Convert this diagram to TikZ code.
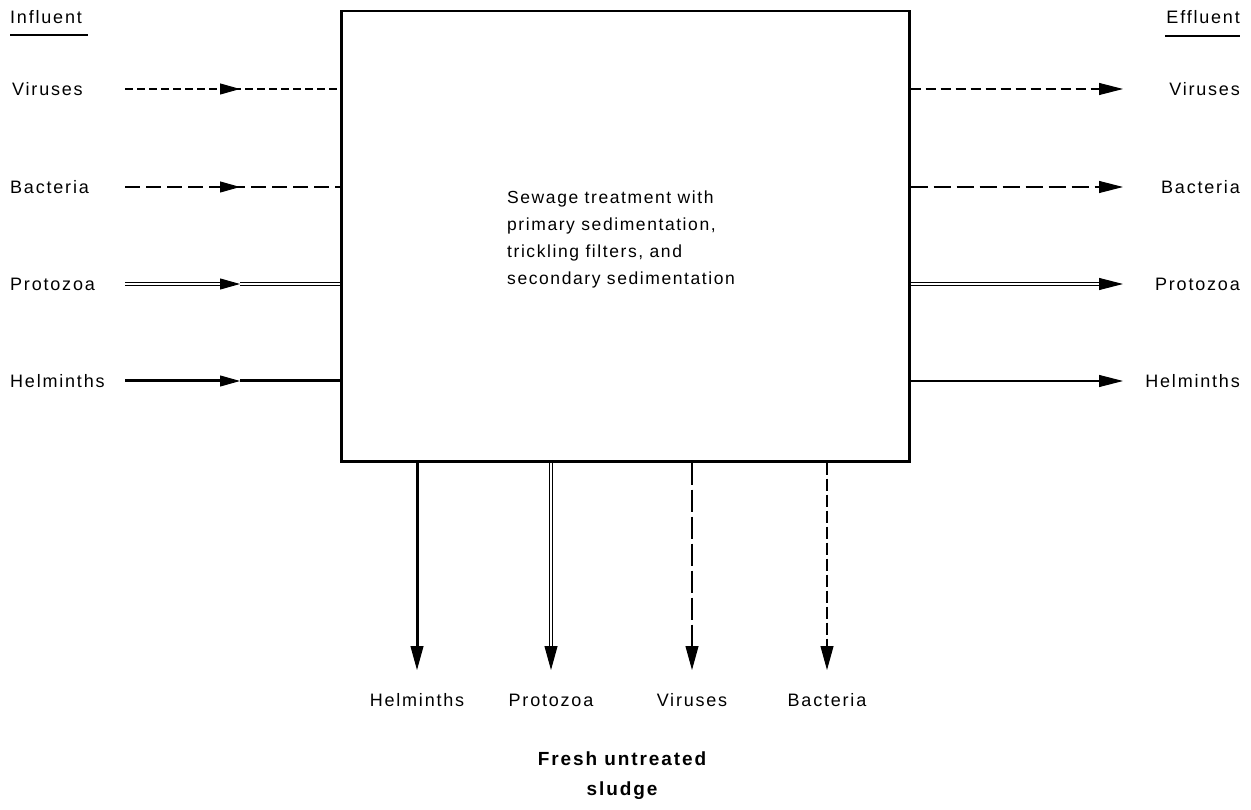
\documentclass[tikz,border=0pt]{standalone}
\usepackage{fontspec}
\setmainfont{Liberation Sans}
\newfontfamily\lblfont[LetterSpace=10]{Liberation Sans}
\newfontfamily\boxfont[LetterSpace=9]{Liberation Sans}
\usetikzlibrary{arrows.meta,calc}
\begin{document}
\begin{tikzpicture}[x=1pt,y=-1pt,
  lbl/.style={font=\lblfont\fontsize{18}{20}\selectfont, inner sep=0pt},
  vir/.style={line width=2pt, dash pattern=on 8pt off 4pt},
  bac/.style={line width=2pt, dash pattern=on 15pt off 6pt},
  pro/.style={double, line width=1.1pt, double distance=2pt},
  helthick/.style={line width=3pt},
  helthin/.style={line width=1.6pt},
  tipL/.style={-{Triangle[length=20pt,width=11pt]}, line width=1pt},
  tipR/.style={-{Triangle[length=24pt,width=12pt]}, line width=1pt},
  tipB/.style={-{Triangle[length=24pt,width=13pt]}, line width=1pt}]
\useasboundingbox (0,0) rectangle (1251,810);
\fill[white] (0,0) rectangle (1251,810);

% main box
\node[draw, line width=2.5pt, inner sep=0pt, minimum width=568pt, minimum height=450pt, anchor=north west] (box) at (340,10) {};
\node[anchor=north west, align=left, inner sep=0pt, font=\boxfont\fontsize{17.5}{27}\selectfont] (txt) at (507,191)
  {Sewage treatment with\\primary sedimentation,\\trickling filters, and\\secondary sedimentation};

% headings
\node[lbl, anchor=base west] (infl) at (10,24) {Influent};
\draw[line width=1.2pt] (10,35) coordinate (iu1) -- (88,35) coordinate (iu2);
\node[lbl, anchor=base east] (effl) at (1240,24) {Effluent};
\draw[line width=1.2pt] (1165,36) coordinate (eu1) -- (1240,36) coordinate (eu2);

% left labels
\node[lbl, anchor=base west] (lv) at (12,96) {Viruses};
\node[lbl, anchor=base west] (lb) at (10,194) {Bacteria};
\node[lbl, anchor=base west] (lp) at (10,291) {Protozoa};
\node[lbl, anchor=base west] (lh) at (10,388) {Helminths};

% left start points and mid arrow tips
\coordinate (sv) at (125,89);  \coordinate (mv) at (240,89);
\coordinate (sb) at (125,187); \coordinate (mb) at (240,187);
\coordinate (sp) at (125,284); \coordinate (mp) at (240,284);
\coordinate (sh) at (125,381); \coordinate (mh) at (240,381);

\draw[vir] (sv) -- (mv) -- (sv -| box.west);
\draw[tipL] ($(mv)+(-20,0)$) -- (mv);
\draw[bac] (sb) -- (mb) -- (sb -| box.west);
\draw[tipL] ($(mb)+(-20,0)$) -- (mb);
\draw[pro] (sp) -- ($(mp)+(-19,0)$);
\draw[pro] (mp) -- (sp -| box.west);
\draw[tipL] ($(mp)+(-20,0)$) -- (mp);
\draw[helthick] (sh) -- ($(mh)+(-15,0)$);
\draw[helthick] (mh) -- (sh -| box.west);
\draw[tipL] ($(mh)+(-20,0)$) -- (mh);

% right labels
\node[lbl, anchor=base east] (rv) at (1240,96) {Viruses};
\node[lbl, anchor=base east] (rb) at (1240,194) {Bacteria};
\node[lbl, anchor=base east] (rp) at (1240,291) {Protozoa};
\node[lbl, anchor=base east] (rh) at (1240,388) {Helminths};

\coordinate (ev) at (1123,89);
\coordinate (eb) at (1123,187);
\coordinate (ep) at (1123,284);
\coordinate (eh) at (1123,381);
\draw[vir, dash pattern=on 10pt off 5pt] (ev -| box.east) -- ($(ev)+(-20,0)$);
\draw[tipR] ($(ev)+(-24,0)$) -- (ev);
\draw[bac, dash pattern=on 17pt off 6pt] (eb -| box.east) -- ($(eb)+(-20,0)$);
\draw[tipR] ($(eb)+(-24,0)$) -- (eb);
\draw[pro] (ep -| box.east) -- ($(ep)+(-20,0)$);
\draw[tipR] ($(ep)+(-24,0)$) -- (ep);
\draw[helthin] (eh -| box.east) -- ($(eh)+(-20,0)$);
\draw[tipR] ($(eh)+(-24,0)$) -- (eh);

% bottom
\coordinate (bh) at (417,670);
\coordinate (bp) at (551,670);
\coordinate (bv) at (692,670);
\coordinate (bb) at (827,670);
\draw[helthick] (bh |- box.south) -- ($(bh)+(0,-20)$);
\draw[tipB] ($(bh)+(0,-24)$) -- (bh);
\draw[pro] (bp |- box.south) -- ($(bp)+(0,-20)$);
\draw[tipB] ($(bp)+(0,-24)$) -- (bp);
\draw[vir, dash pattern=on 22pt off 5pt] (bv |- box.south) -- ($(bv)+(0,-20)$);
\draw[tipB] ($(bv)+(0,-24)$) -- (bv);
\draw[bac, dash pattern=on 12pt off 4pt] (bb |- box.south) -- ($(bb)+(0,-20)$);
\draw[tipB] ($(bb)+(0,-24)$) -- (bb);

\node[lbl, anchor=base] (th) at (417,706) {Helminths};
\node[lbl, anchor=base] (tp) at (551,706) {Protozoa};
\node[lbl, anchor=base] (tv) at (692,706) {Viruses};
\node[lbl, anchor=base] (tb) at (827,706) {Bacteria};

\node[font=\lblfont\bfseries\fontsize{19}{30}\selectfont, align=center, anchor=north, inner sep=0pt] (sludge) at (622,752) {Fresh untreated\\sludge};
\end{tikzpicture}
\end{document}
